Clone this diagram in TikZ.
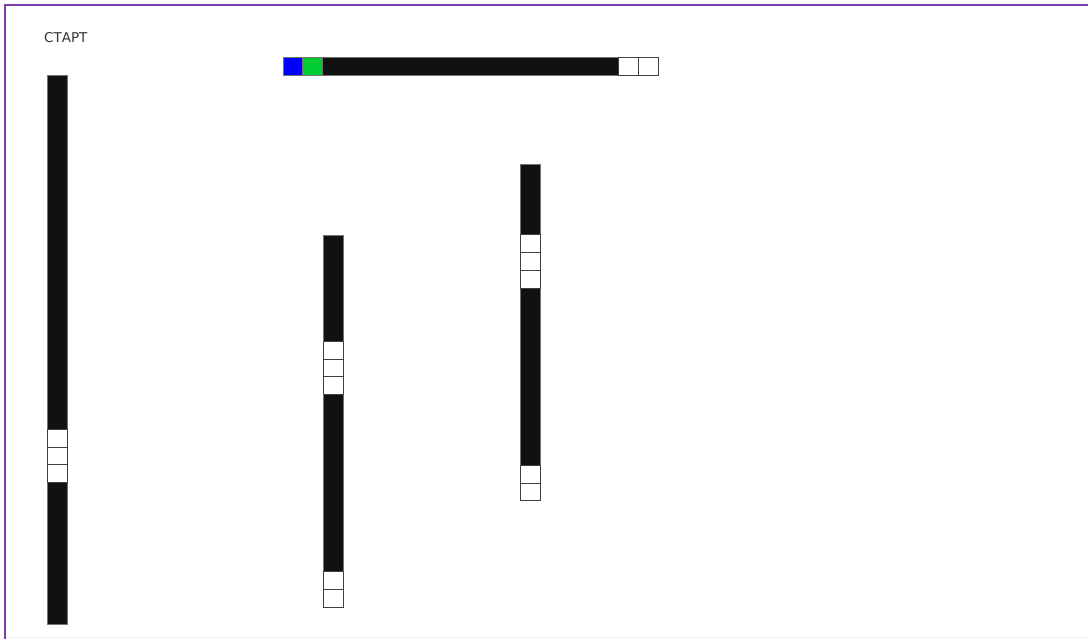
\documentclass[tikz,border=0pt]{standalone}
\usepackage{fontspec}
\newfontfamily\lbl{DejaVu Sans}
\definecolor{framec}{RGB}{122,62,172}
\definecolor{cellblack}{HTML}{111111}
\definecolor{cellblue}{HTML}{0000FF}
\definecolor{cellgreen}{HTML}{00CC33}
\definecolor{textc}{HTML}{333333}
\tikzset{
  blackrun/.style={fill=cellblack,draw=black!55,line width=0.8pt},
  whitecell/.style={fill=white,draw=black!75,line width=0.8pt},
  bluecell/.style={fill=cellblue,draw=black!55,line width=0.8pt},
  greencell/.style={fill=cellgreen,draw=black!55,line width=0.8pt},
  framestyle/.style={draw=framec,line width=2pt},
  label/.style={font=\lbl\fontsize{13.5pt}{16pt}\selectfont,text=textc,inner sep=0pt}
}
\begin{document}
\begin{tikzpicture}[x=1pt,y=-1pt]
\useasboundingbox (0,0) rectangle (1088,639);
\fill[white] (0,0) rectangle (1088,639);
% frame
\draw[framestyle] (5,639) -- (5,5) -- (1088,5);
\draw[gray!12,line width=1pt] (6,637.5) -- (1088,637.5);
% label
\node[label,anchor=west] (start) at (44,38) {СТАРТ};
% horizontal bar
\def\cw{19.74}
\draw[blackrun] (283,57) rectangle (658,75);
\draw[bluecell] (283,57) rectangle ++(\cw,18);
\draw[greencell] (283+\cw,57) rectangle ++(\cw,18);
\foreach \i in {17,18} \draw[whitecell] (283+\i*\cw,57) rectangle ++(\cw,18);
% columns
\def\ch{17.72}
% left column
\draw[blackrun] (47,75) rectangle (67,75+31*\ch);
\foreach \i in {20,21,22} \draw[whitecell] (47,75+\i*\ch) rectangle ++(20,\ch);
% middle column
\draw[blackrun] (323,235) rectangle (343,235+21*\ch);
\foreach \i in {6,7,8,19,20} \draw[whitecell] (323,235+\i*\ch) rectangle ++(20,\ch);
% right column
\draw[blackrun] (520,164) rectangle (540,164+19*\ch);
\foreach \i in {4,5,6,17,18} \draw[whitecell] (520,164+\i*\ch) rectangle ++(20,\ch);
\end{tikzpicture}
\end{document}
